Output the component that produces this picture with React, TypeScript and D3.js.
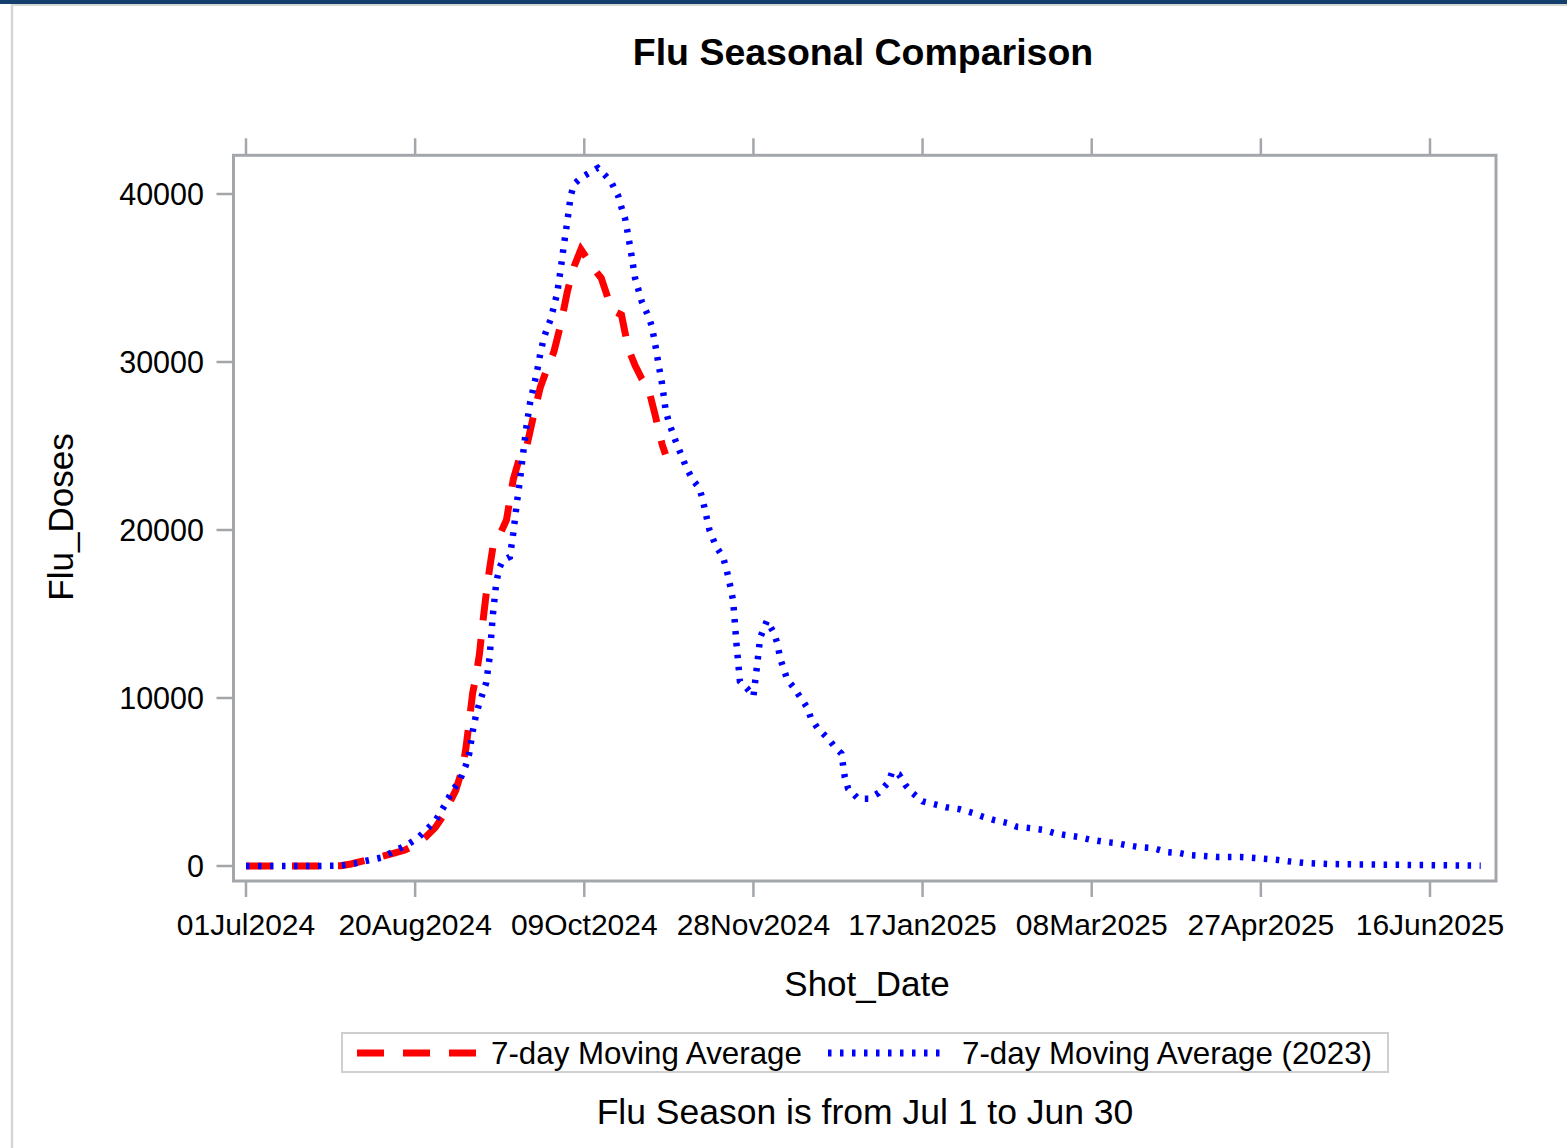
import React, { useEffect, useRef } from 'react'
import * as d3 from 'd3'

// season starts Jul 1; both series are placed on day-of-season offsets
const seasonStart = Date.UTC(2024, 6, 1)

const tickLabels = [
  '01Jul2024',
  '20Aug2024',
  '09Oct2024',
  '28Nov2024',
  '17Jan2025',
  '08Mar2025',
  '27Apr2025',
  '16Jun2025',
]
const tickDays = [0, 50, 100, 150, 200, 250, 300, 350]
const yTicks = [0, 10000, 20000, 30000, 40000]

// 7-day moving average, current season (2024)
const currentDays = [
  0, 7, 14, 21, 28, 31, 35, 39, 43, 47, 50, 53, 56, 58, 60, 62, 64, 65, 66, 67,
  68, 69, 70, 71, 72, 73, 75, 77, 78, 79, 81, 83, 85, 87, 89, 91, 93, 95, 97,
  99, 101, 103, 105, 107, 109, 111, 113, 115, 117, 119, 121, 123, 124,
]
const currentDoses = [
  0, 0, 0, 0, 20, 120, 320, 520, 720, 950, 1250, 1700, 2300, 2900, 3700, 4500,
  5800, 7000, 8600, 10300, 11300, 12600, 14500, 16200, 17700, 19000, 19700,
  20600, 21800, 23000, 24400, 25000, 26800, 28500, 29600, 30600, 32200, 34200,
  35700, 36700, 36100, 35500, 35000, 33800, 33000, 32800, 30800, 29800, 29000,
  28400, 26800, 25100, 24500,
]

// 7-day moving average, prior season (2023) aligned to the same season days
const priorDays = [
  0, 7, 14, 21, 28, 32, 36, 40, 44, 48, 51, 53, 56, 59, 61, 63, 65, 66, 67, 68,
  69, 70, 71, 72, 73, 74, 75, 76, 78, 79, 80, 81, 82, 83, 84, 85, 86, 87, 88,
  89, 90, 91, 92, 93, 94, 95, 96, 97, 99, 101, 104, 106, 108, 110, 111, 112,
  113, 114, 115, 116, 117, 119, 120, 121, 122, 123, 124, 125, 127, 129, 130,
  132, 134, 135, 137, 139, 141, 142, 143, 144, 145, 146, 148, 150, 151, 152,
  154, 156, 157, 158, 160, 162, 164, 166, 167, 169, 172, 174, 176, 177, 178,
  181, 184, 187, 190, 191, 193, 195, 197, 200, 204, 207, 211, 215, 218, 221,
  225, 228, 232, 236, 239, 242, 246, 250, 254, 257, 260, 264, 268, 272, 276,
  279, 283, 287, 294, 298, 302, 305, 309, 313, 320, 330, 340, 350, 365,
]
const priorDoses = [
  0, 0, 0, 0, 20, 150, 330, 500, 900, 1300, 1700, 2100, 2700, 3700, 4500, 5000,
  6000, 6700, 8000, 9000, 9700, 10300, 10900, 12400, 15000, 16900, 17800,
  18200, 18400, 19800, 21500, 23000, 24700, 26300, 27600, 28500, 29400, 30500,
  31400, 32000, 32500, 33300, 34100, 35500, 37000, 38400, 39900, 40600, 40950,
  41200, 41550, 41150, 40700, 39900, 39200, 38600, 37500, 36300, 35000, 34300,
  33600, 32700, 32100, 31000, 29800, 28700, 27200, 26400, 25300, 24300, 23800,
  23000, 22500, 21800, 20000, 19000, 18400, 17700, 16800, 15800, 13200, 11000,
  10600, 10100, 11800, 13600, 14600, 13900, 13300, 12300, 11100, 10600, 10000,
  9400, 8800, 8200, 7600, 7100, 6700, 5300, 4600, 4000, 4000, 4350, 5000, 5600,
  5450, 4800, 4350, 3850, 3650, 3500, 3380, 3150, 2920, 2740, 2560, 2330, 2250,
  2140, 1960, 1850, 1730, 1550, 1430, 1370, 1250, 1130, 1070, 830, 770, 650,
  600, 540, 530, 480, 420, 360, 260, 180, 120, 90, 70, 50, 20,
]

const dayToDate = (d: number) => new Date(seasonStart + d * 864e5)

const App = () => {
  const svgRef = useRef<SVGSVGElement>(null)

  useEffect(() => {
    const width = 1567,
      height = 1148
    const font = "'Liberation Sans', Arial, sans-serif"
    const frameColor = '#a3a7ab'

    const svg = d3.select(svgRef.current)
    svg.selectAll('*').remove()
    svg.attr('width', width).attr('height', height)

    // window chrome
    svg.append('rect').attr('x', 0).attr('y', 0).attr('width', width).attr('height', height).attr('fill', '#fff')
    svg.append('rect').attr('x', 0).attr('y', 0).attr('width', width).attr('height', 4).attr('fill', '#143f6c')
    svg.append('line').attr('x1', 11).attr('x2', width).attr('y1', 5).attr('y2', 5).attr('stroke', '#d6d6d6').attr('stroke-width', 2)
    svg.append('line').attr('x1', 12).attr('x2', 12).attr('y1', 4).attr('y2', height).attr('stroke', '#d6d6d6').attr('stroke-width', 2.5)

    const left = 233.5,
      right = 1496,
      top = 155.3,
      bottom = 881

    const pxPerDay = (1430 - 246) / 350
    const xScale = d3
      .scaleUtc()
      .domain([dayToDate(-(246 - left) / pxPerDay), dayToDate((right - 246) / pxPerDay)])
      .range([left, right])

    const yScale = d3
      .scaleLinear()
      .domain([(866 - bottom) / 0.0168, (866 - top) / 0.0168])
      .range([bottom, top])

    // title
    svg.append('text')
      .attr('x', 863)
      .attr('y', 65)
      .attr('text-anchor', 'middle')
      .style('font-family', font)
      .style('font-weight', 'bold')
      .style('font-size', '37.5px')
      .text('Flu Seasonal Comparison')

    // series
    const lineGen = d3
      .line<[number, number]>()
      .x((d) => xScale(dayToDate(d[0])))
      .y((d) => yScale(d[1]))

    const current = currentDays.map((d, i) => [d, currentDoses[i]] as [number, number])
    const prior = priorDays.map((d, i) => [d, priorDoses[i]] as [number, number])

    svg.append('path')
      .attr('d', lineGen(current))
      .attr('fill', 'none')
      .attr('stroke', '#ff0000')
      .attr('stroke-width', 7)
      .attr('stroke-dasharray', '27 19')

    svg.append('path')
      .attr('d', lineGen(prior))
      .attr('fill', 'none')
      .attr('stroke', '#0000ff')
      .attr('stroke-width', 6.5)
      .attr('stroke-dasharray', '3.5 8.5')

    // frame
    svg.append('rect')
      .attr('x', left)
      .attr('y', top)
      .attr('width', right - left)
      .attr('height', bottom - top)
      .attr('fill', 'none')
      .attr('stroke', frameColor)
      .attr('stroke-width', 3)

    // x ticks, bottom and mirrored on top
    const xt = svg.append('g')
    tickDays.forEach((d, i) => {
      const x = xScale(dayToDate(d))
      xt.append('line').attr('x1', x).attr('x2', x).attr('y1', bottom).attr('y2', bottom + 16).attr('stroke', frameColor).attr('stroke-width', 2.5)
      xt.append('line').attr('x1', x).attr('x2', x).attr('y1', top).attr('y2', top - 17).attr('stroke', frameColor).attr('stroke-width', 2.5)
      xt.append('text')
        .attr('x', x)
        .attr('y', 935)
        .attr('text-anchor', 'middle')
        .style('font-family', font)
        .style('font-size', '30px')
        .text(tickLabels[i])
    })

    // y ticks
    const yt = svg.append('g')
    yTicks.forEach((v) => {
      const y = yScale(v)
      yt.append('line').attr('x1', left - 17).attr('x2', left).attr('y1', y).attr('y2', y).attr('stroke', frameColor).attr('stroke-width', 2.5)
      yt.append('text')
        .attr('x', 204)
        .attr('y', y + 10.5)
        .attr('text-anchor', 'end')
        .style('font-family', font)
        .style('font-size', '30.5px')
        .text(d3.format('d')(v))
    })

    // axis labels
    svg.append('text')
      .attr('x', 867)
      .attr('y', 996)
      .attr('text-anchor', 'middle')
      .style('font-family', font)
      .style('font-size', '35px')
      .text('Shot_Date')

    svg.append('text')
      .attr('transform', 'translate(73,517) rotate(-90)')
      .attr('text-anchor', 'middle')
      .style('font-family', font)
      .style('font-size', '35px')
      .text('Flu_Doses')

    // legend
    const lg = svg.append('g')
    lg.append('rect')
      .attr('x', 342)
      .attr('y', 1033)
      .attr('width', 1046)
      .attr('height', 39)
      .attr('fill', '#fff')
      .attr('stroke', '#cfcfcf')
      .attr('stroke-width', 2)
    lg.append('line')
      .attr('x1', 357).attr('x2', 476).attr('y1', 1053).attr('y2', 1053)
      .attr('stroke', '#ff0000').attr('stroke-width', 7).attr('stroke-dasharray', '27 19')
    lg.append('text')
      .attr('x', 491).attr('y', 1064)
      .style('font-family', font).style('font-size', '31.3px')
      .text('7-day Moving Average')
    lg.append('line')
      .attr('x1', 828).attr('x2', 946).attr('y1', 1053).attr('y2', 1053)
      .attr('stroke', '#0000ff').attr('stroke-width', 7).attr('stroke-dasharray', '3.5 8.5')
    lg.append('text')
      .attr('x', 962).attr('y', 1064)
      .style('font-family', font).style('font-size', '31.3px')
      .text('7-day Moving Average (2023)')

    // footnote
    svg.append('text')
      .attr('x', 865)
      .attr('y', 1124)
      .attr('text-anchor', 'middle')
      .style('font-family', font)
      .style('font-size', '35.5px')
      .text('Flu Season is from Jul 1 to Jun 30')
  }, [])

  return (
    <svg
      ref={svgRef}
      style={{ position: 'absolute', left: 0, top: 0, display: 'block' }}
    ></svg>
  )
}

export default App
